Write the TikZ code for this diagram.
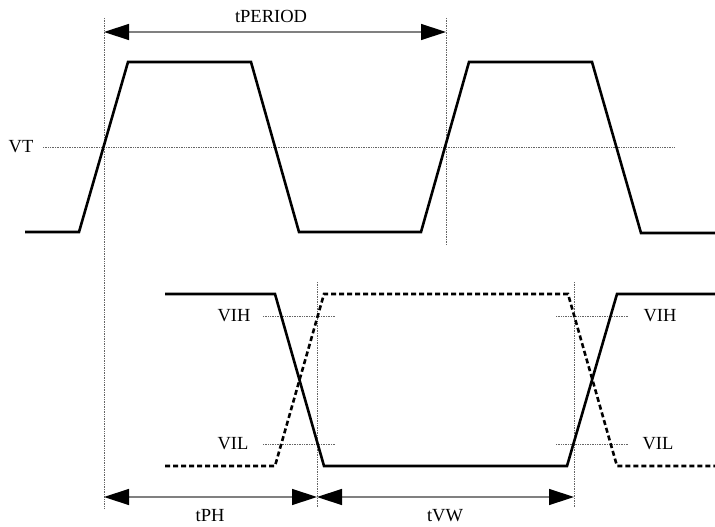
\documentclass[tikz,border=0pt]{standalone}
\usepackage{fontspec}
\setmainfont{Liberation Serif}
\usetikzlibrary{arrows.meta}

\begin{document}
\begin{tikzpicture}
[x=1pt,y=-1pt,%
  waveDecorate/.style={line width=2.6pt,line join=miter},%
  dashDecorate/.style={waveDecorate,dash pattern=on 5pt off 3pt},%
  guideDecorate/.style={gray!80!black,line width=0.7pt,densely dotted},%
  spanDecorate/.style={{Triangle[length=25pt,width=16pt,color=black]}-{Triangle[length=25pt,width=16pt,color=black]},gray,line width=1.4pt},%
  labelDecorate/.style={inner sep=1pt,font=\fontsize{18.5}{20}\selectfont}]
\useasboundingbox (0,0) rectangle (715,527);
%% marker points
\coordinate (m1top) at (104,18);
\coordinate (m1bot) at (104,508);
\coordinate (m2top) at (446,18);
\coordinate (m2bot) at (446,245);
\coordinate (m3top) at (317,282);
\coordinate (m3bot) at (317,508);
\coordinate (m4top) at (574,282);
\coordinate (m4bot) at (574,508);
%% vertical guides
\foreach \a/\b in {m1top/m1bot, m2top/m2bot, m3top/m3bot, m4top/m4bot}
  \draw[guideDecorate] (\a) -- (\b);
%% threshold guides
\node[labelDecorate] (vt) at (21,147) {VT};
\draw[guideDecorate] (43,147) -- (675,147);
\foreach \nodename/\txt/\x/\y/\lx/\rx in {
  vihl/VIH/234/316/263/336, vill/VIL/233/444/263/336,
  vihr/VIH/660/316/556/628, vilr/VIL/658/444/556/628}
{
  \node[labelDecorate] (\nodename) at (\x,\y) {\txt};
  \draw[guideDecorate] (\lx,\y) -- (\rx,\y);
}
%% clock waveform
\draw[waveDecorate] (25,232) -- (79,232) -- (128,62) -- (251,62) -- (299,232)
  -- (421,232) -- (469,62) -- (592,62) -- (641,233) -- (715,233);
%% data waveforms
\draw[waveDecorate] (165,294) -- (275,294) -- (324,466) -- (567,466) -- (617,294) -- (715,294);
\draw[dashDecorate] (165,466) -- (275,466) -- (324,294) -- (568,294) -- (617,466) -- (715,466);
%% timing spans
\coordinate (p1) at (104,32);
\coordinate (p2) at (446,32);
\coordinate (q1) at (104,497);
\coordinate (q2) at (317,497);
\coordinate (q3) at (574,497);
\draw[spanDecorate] (p1) -- (p2);
\draw[spanDecorate] (q1) -- (q2);
\draw[spanDecorate] (q2) -- (q3);
\node[labelDecorate] (tperiod) at (271,16) {tPERIOD};
\node[labelDecorate] (tph) at (210,516) {tPH};
\node[labelDecorate] (tvw) at (445,516) {tVW};
\end{tikzpicture}
\end{document}
